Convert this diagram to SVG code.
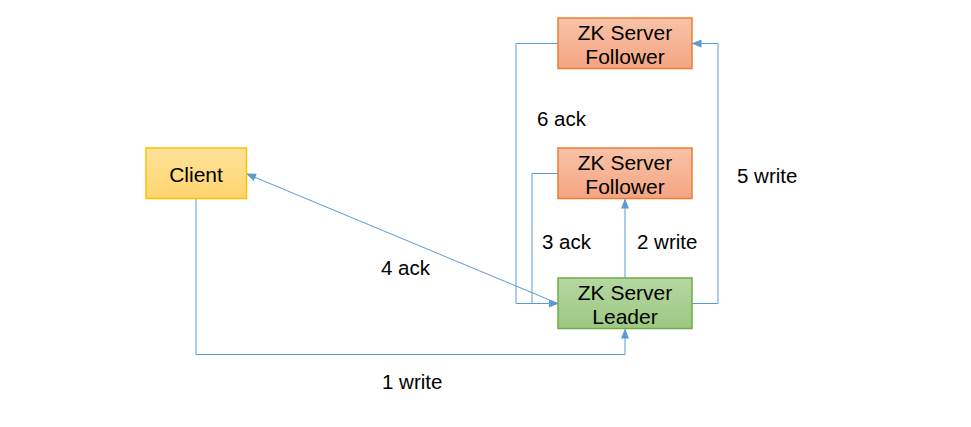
<svg xmlns="http://www.w3.org/2000/svg" width="971" height="427" viewBox="0 0 971 427">
<defs>
<linearGradient id="gF" x1="0" y1="0" x2="0" y2="1"><stop offset="0" stop-color="#F8C3A9"/><stop offset="1" stop-color="#F4A581"/></linearGradient>
<linearGradient id="gL" x1="0" y1="0" x2="0" y2="1"><stop offset="0" stop-color="#B5D8A0"/><stop offset="1" stop-color="#9CC882"/></linearGradient>
<linearGradient id="gC" x1="0" y1="0" x2="0" y2="1"><stop offset="0" stop-color="#FFE29A"/><stop offset="1" stop-color="#FFD56E"/></linearGradient>
<marker id="arr" markerWidth="10" markerHeight="8" refX="9" refY="4" orient="auto" markerUnits="userSpaceOnUse"><path d="M0,0 L10,4 L0,8 Z" fill="#5B9BD5"/></marker>
<style>
.t{font-family:"Liberation Sans",Arial,sans-serif;font-size:20.5px;fill:#000}
.c{text-anchor:middle;font-size:21px}
.ln{fill:none;stroke:#5B9BD5;stroke-width:1;marker-end:url(#arr)}
.f{fill:url(#gF);stroke:#ED7D31;stroke-width:1.5}
.l{fill:url(#gL);stroke:#70AD47;stroke-width:1.5}
.cl{fill:url(#gC);stroke:#FFC000;stroke-width:1.5}
</style>
</defs>
<rect width="971" height="427" fill="#fff"/>
<g id="connectors">
<polyline class="ln" points="196,199 196,354.5 625,354.5 625,329.5"/>
<polyline class="ln" points="625,278 625,199.5"/>
<polyline class="ln" points="558,173.5 532,173.5 532,303.5 557.5,303.5"/>
<polyline class="ln" points="558,43.5 516,43.5 516,303.5 557.5,303.5"/>
<line class="ln" x1="558" y1="303.5" x2="247" y2="174"/>
<polyline class="ln" points="692,303.5 718,303.5 718,43.5 692.5,43.5"/>
<text class="t" x="537" y="126">6 ack</text>
<text class="t" x="737" y="183">5 write</text>
<text class="t" x="542" y="249">3 ack</text>
<text class="t" x="637" y="249">2 write</text>
<text class="t" x="381" y="275">4 ack</text>
<text class="t" x="382" y="389">1 write</text>
</g>
<g id="follower1">
<rect class="f" x="558" y="18" width="134" height="50.5"/>
<text class="t c" x="625" y="39.5">ZK Server</text>
<text class="t c" x="625" y="63.5">Follower</text>
</g>
<g id="follower2">
<rect class="f" x="558" y="148" width="134" height="50.5"/>
<text class="t c" x="625" y="169.5">ZK Server</text>
<text class="t c" x="625" y="193.5">Follower</text>
</g>
<g id="leader">
<rect class="l" x="558" y="278" width="134" height="50.5"/>
<text class="t c" x="625" y="299.5">ZK Server</text>
<text class="t c" x="625" y="323.5">Leader</text>
</g>
<g id="client">
<rect class="cl" x="146" y="148" width="100.5" height="50.5"/>
<text class="t c" x="196" y="181.5">Client</text>
</g>
</svg>
